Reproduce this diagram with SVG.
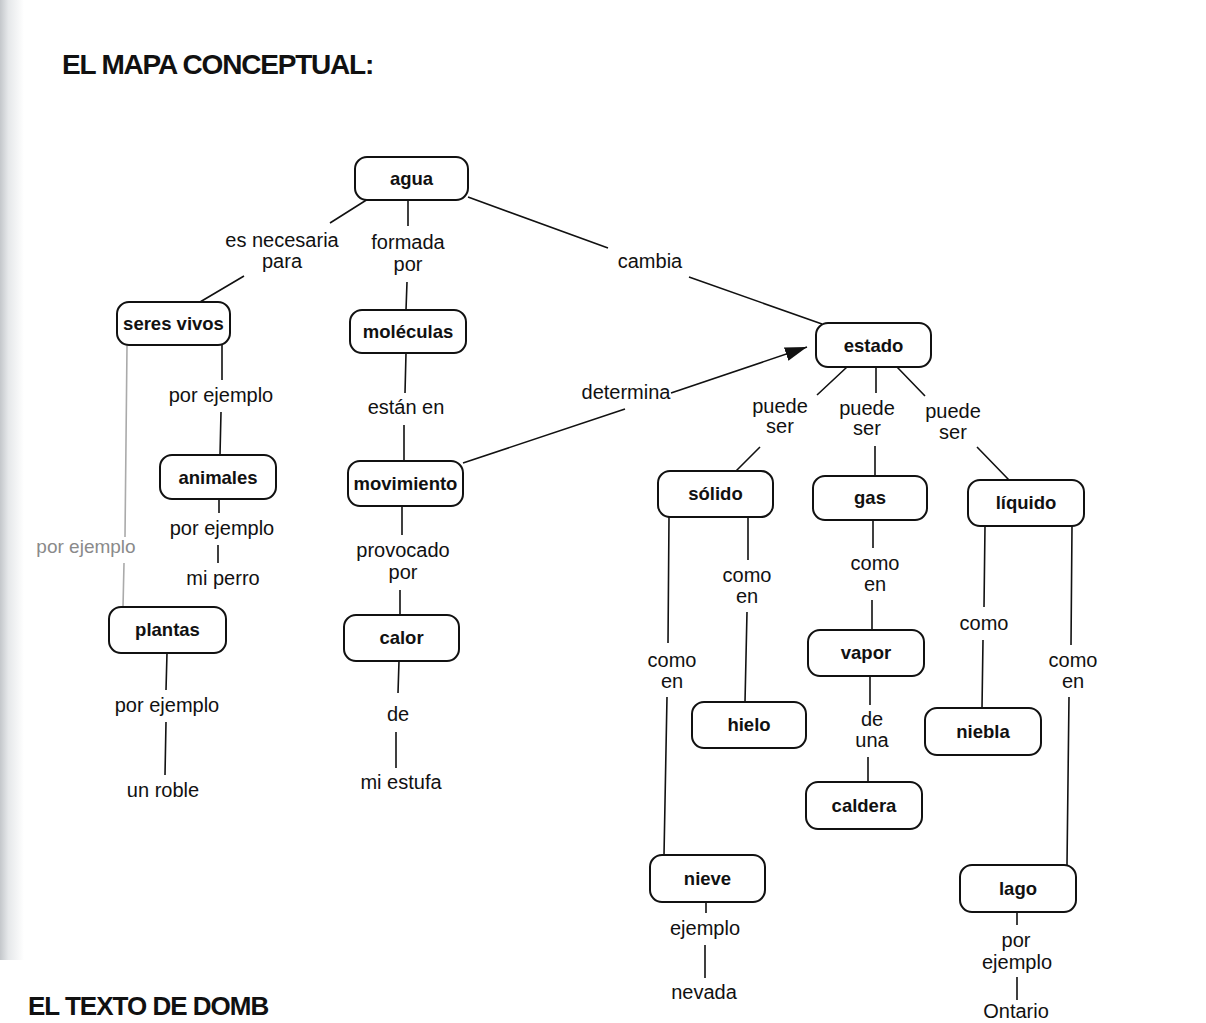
<svg xmlns="http://www.w3.org/2000/svg" width="1206" height="1023" viewBox="0 0 1206 1023">
<style>
.node rect{fill:#fff;stroke:#111;stroke-width:2}
.node text{font-family:"Liberation Sans",Arial,sans-serif;font-weight:bold;font-size:18.5px;fill:#111;text-anchor:middle}
.lbl{font-family:"Liberation Sans",Arial,sans-serif;font-size:20px;fill:#111;text-anchor:middle}
.edges path{fill:none;stroke:#111;stroke-width:1.6}
.title{font-family:"Liberation Sans",Arial,sans-serif;font-weight:bold;font-size:28px;fill:#111;letter-spacing:-1.2px}
</style>
<defs>
<linearGradient id="shade" x1="0" y1="0" x2="1" y2="0">
<stop offset="0" stop-color="#c4c7cb"/>
<stop offset="0.35" stop-color="#e6e8ea"/>
<stop offset="1" stop-color="#ffffff"/>
</linearGradient>
<marker id="arr" markerUnits="userSpaceOnUse" markerWidth="24" markerHeight="16" refX="22" refY="7" orient="auto">
<path d="M0,0 L22,7 L0,14 z" fill="#111"/>
</marker>
</defs>
<rect x="0" y="0" width="1206" height="1023" fill="#fff"/>
<rect x="0" y="0" width="24" height="960" fill="url(#shade)"/>
<text class="title" x="62" y="74">EL MAPA CONCEPTUAL:</text>
<text class="title" x="28" y="1015" style="font-size:26px;letter-spacing:-1px">EL TEXTO DE DOMB</text>

<g class="edges" id="connectors">
<path d="M368,199 L330,223 M244,276 L200,302"/>
<path d="M408,200 L408,226 M407,282 L406,310"/>
<path d="M468,197 L608,248 M689,277 L822,324"/>
<path d="M222,345 L222,380 M221,412 L220,455"/>
<path d="M127,346 L125,537 M124,563 L123,607" style="stroke:#aaa"/>
<path d="M406,353 L405,393 M404,425 L404,461"/>
<path d="M463,463 L625,409"/>
<path d="M671,393 L807,347" marker-end="url(#arr)"/>
<path d="M219,499 L219,513 M218,545 L218,563"/>
<path d="M402,506 L402,535 M400,590 L400,615"/>
<path d="M167,653 L166,690 M166,722 L165,775"/>
<path d="M399,661 L398,693 M396,732 L396,768"/>
<path d="M847,367 L817,395 M760,447 L736,471"/>
<path d="M876,367 L876,393 M875,446 L875,476"/>
<path d="M897,367 L925,396 M977,447 L1009,480"/>
<path d="M669,517 L668,643 M667,697 L664,855"/>
<path d="M748,517 L748,560 M747,612 L745,702"/>
<path d="M873,520 L873,548 M872,600 L872,630"/>
<path d="M870,676 L870,705 M868,757 L868,782"/>
<path d="M985,526 L984,607 M983,640 L982,708"/>
<path d="M1072,526 L1071,645 M1069,697 L1067,865"/>
<path d="M706,902 L706,913 M705,945 L705,978"/>
<path d="M1017,912 L1017,925 M1017,977 L1017,1000"/>
</g>

<g id="labels">
<text class="lbl" x="282" y="247">es necesaria</text>
<text class="lbl" x="282" y="268">para</text>
<text class="lbl" x="408" y="249">formada</text>
<text class="lbl" x="408" y="271">por</text>
<text class="lbl" x="650" y="268">cambia</text>
<text class="lbl" x="221" y="402">por ejemplo</text>
<text class="lbl" x="406" y="414">están en</text>
<text class="lbl" x="626" y="399">determina</text>
<text class="lbl" x="780" y="413">puede</text>
<text class="lbl" x="780" y="433">ser</text>
<text class="lbl" x="867" y="415">puede</text>
<text class="lbl" x="867" y="435">ser</text>
<text class="lbl" x="953" y="418">puede</text>
<text class="lbl" x="953" y="439">ser</text>
<text class="lbl" x="222" y="535">por ejemplo</text>
<text class="lbl" x="223" y="585">mi perro</text>
<text class="lbl" x="86" y="553" style="font-size:19px;fill:#8a8a8a">por ejemplo</text>
<text class="lbl" x="403" y="557">provocado</text>
<text class="lbl" x="403" y="579">por</text>
<text class="lbl" x="747" y="582">como</text>
<text class="lbl" x="747" y="603">en</text>
<text class="lbl" x="875" y="570">como</text>
<text class="lbl" x="875" y="591">en</text>
<text class="lbl" x="984" y="630">como</text>
<text class="lbl" x="672" y="667">como</text>
<text class="lbl" x="672" y="688">en</text>
<text class="lbl" x="1073" y="667">como</text>
<text class="lbl" x="1073" y="688">en</text>
<text class="lbl" x="167" y="712">por ejemplo</text>
<text class="lbl" x="398" y="721">de</text>
<text class="lbl" x="872" y="726">de</text>
<text class="lbl" x="872" y="747">una</text>
<text class="lbl" x="163" y="797">un roble</text>
<text class="lbl" x="401" y="789">mi estufa</text>
<text class="lbl" x="705" y="935">ejemplo</text>
<text class="lbl" x="704" y="999">nevada</text>
<text class="lbl" x="1016" y="947">por</text>
<text class="lbl" x="1017" y="969">ejemplo</text>
<text class="lbl" x="1016" y="1018">Ontario</text>
</g>

<g class="node" id="agua"><rect x="355" y="157" width="113" height="43" rx="12"/><text x="411.5" y="185">agua</text></g>
<g class="node" id="seres-vivos"><rect x="117" y="302" width="113" height="43" rx="12"/><text x="173.5" y="330">seres vivos</text></g>
<g class="node" id="moleculas"><rect x="350" y="310" width="116" height="43" rx="12"/><text x="408" y="338">moléculas</text></g>
<g class="node" id="estado"><rect x="816" y="323" width="115" height="44" rx="12"/><text x="873.5" y="352">estado</text></g>
<g class="node" id="animales"><rect x="160" y="455" width="116" height="44" rx="12"/><text x="218" y="484">animales</text></g>
<g class="node" id="movimiento"><rect x="348" y="461" width="115" height="45" rx="12"/><text x="405.5" y="490">movimiento</text></g>
<g class="node" id="solido"><rect x="658" y="471" width="115" height="46" rx="12"/><text x="715.5" y="500">sólido</text></g>
<g class="node" id="gas"><rect x="813" y="476" width="114" height="44" rx="12"/><text x="870" y="504">gas</text></g>
<g class="node" id="liquido"><rect x="968" y="480" width="116" height="46" rx="12"/><text x="1026" y="509">líquido</text></g>
<g class="node" id="plantas"><rect x="109" y="607" width="117" height="46" rx="12"/><text x="167.5" y="636">plantas</text></g>
<g class="node" id="calor"><rect x="344" y="615" width="115" height="46" rx="12"/><text x="401.5" y="644">calor</text></g>
<g class="node" id="vapor"><rect x="808" y="630" width="116" height="46" rx="12"/><text x="866" y="659">vapor</text></g>
<g class="node" id="hielo"><rect x="692" y="702" width="114" height="46" rx="12"/><text x="749" y="731">hielo</text></g>
<g class="node" id="niebla"><rect x="925" y="708" width="116" height="47" rx="12"/><text x="983" y="738">niebla</text></g>
<g class="node" id="caldera"><rect x="806" y="782" width="116" height="47" rx="12"/><text x="864" y="812">caldera</text></g>
<g class="node" id="nieve"><rect x="650" y="855" width="115" height="47" rx="12"/><text x="707.5" y="885">nieve</text></g>
<g class="node" id="lago"><rect x="960" y="865" width="116" height="47" rx="12"/><text x="1018" y="895">lago</text></g>
</svg>
